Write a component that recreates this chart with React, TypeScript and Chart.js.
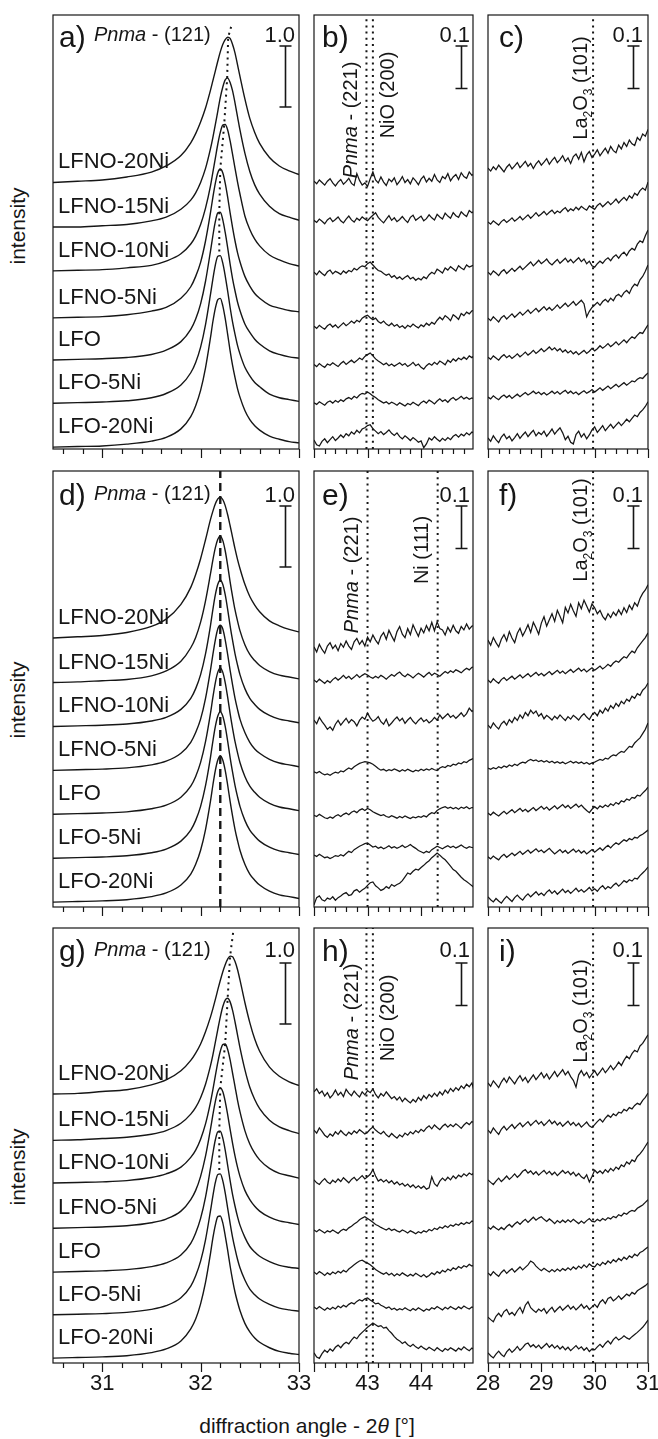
import React, { useEffect, useRef } from "react";
import { Chart, registerables } from "chart.js";

Chart.register(...registerables);

const FONT = '"Liberation Sans", Arial, Helvetica, sans-serif';
const INK = "#161616";

// ---------------- data ----------------
const sampleNames = ["LFNO-20Ni", "LFNO-15Ni", "LFNO-10Ni", "LFNO-5Ni", "LFO", "LFO-5Ni", "LFO-20Ni"];

// 2theta grid of the (121) reflection window
const peakAngles = [30.5, 30.75, 31, 31.25, 31.5, 31.65, 31.8, 31.9, 31.95, 32, 32.05, 32.1, 32.125, 32.15, 32.175, 32.2, 32.225, 32.25, 32.275, 32.3, 32.325, 32.35, 32.375, 32.4, 32.45, 32.5, 32.55, 32.6, 32.7, 32.8, 32.9, 33];
// 2theta grid of the NiO / Ni window
const niAngles = [42, 42.05, 42.1, 42.15, 42.2, 42.25, 42.3, 42.35, 42.4, 42.45, 42.5, 42.55, 42.6, 42.65, 42.7, 42.75, 42.8, 42.85, 42.9, 42.95, 43, 43.05, 43.1, 43.15, 43.2, 43.25, 43.3, 43.35, 43.4, 43.45, 43.5, 43.55, 43.6, 43.65, 43.7, 43.75, 43.8, 43.85, 43.9, 43.95, 44, 44.05, 44.1, 44.15, 44.2, 44.25, 44.3, 44.35, 44.4, 44.45, 44.5, 44.55, 44.6, 44.65, 44.7, 44.75, 44.8, 44.85, 44.9, 44.95, 45];
// 2theta grid of the La2O3 window
const laAngles = [28, 28.05, 28.1, 28.15, 28.2, 28.25, 28.3, 28.35, 28.4, 28.45, 28.5, 28.55, 28.6, 28.65, 28.7, 28.75, 28.8, 28.85, 28.9, 28.95, 29, 29.05, 29.1, 29.15, 29.2, 29.25, 29.3, 29.35, 29.4, 29.45, 29.5, 29.55, 29.6, 29.65, 29.7, 29.75, 29.8, 29.85, 29.9, 29.95, 30, 30.05, 30.1, 30.15, 30.2, 30.25, 30.3, 30.35, 30.4, 30.45, 30.5, 30.55, 30.6, 30.65, 30.7, 30.75, 30.8, 30.85, 30.9, 30.95, 31];

// (121) patterns, stacked, intensity units (scale bar = 1.0)
const panelA = [
  [4.37, 4.39, 4.41, 4.46, 4.54, 4.64, 4.81, 5.02, 5.17, 5.36, 5.59, 5.88, 6.04, 6.2, 6.36, 6.51, 6.63, 6.71, 6.75, 6.73, 6.63, 6.49, 6.3, 6.11, 5.74, 5.42, 5.19, 5.01, 4.78, 4.64, 4.56, 4.5],
  [3.64, 3.64, 3.66, 3.68, 3.74, 3.8, 3.93, 4.08, 4.2, 4.37, 4.6, 4.92, 5.11, 5.32, 5.54, 5.76, 5.93, 6.05, 6.08, 6.01, 5.87, 5.67, 5.45, 5.23, 4.85, 4.55, 4.33, 4.18, 3.98, 3.86, 3.8, 3.75],
  [2.92, 2.93, 2.94, 2.97, 3.01, 3.08, 3.2, 3.36, 3.49, 3.68, 3.95, 4.31, 4.54, 4.77, 5, 5.19, 5.31, 5.32, 5.23, 5.05, 4.83, 4.6, 4.38, 4.18, 3.82, 3.6, 3.44, 3.33, 3.18, 3.1, 3.04, 3],
  [2.15, 2.16, 2.17, 2.2, 2.26, 2.32, 2.47, 2.66, 2.83, 3.06, 3.41, 3.87, 4.13, 4.36, 4.53, 4.59, 4.53, 4.36, 4.13, 3.87, 3.63, 3.41, 3.22, 3.07, 2.83, 2.67, 2.55, 2.47, 2.36, 2.31, 2.27, 2.25],
  [1.46, 1.47, 1.48, 1.5, 1.55, 1.62, 1.76, 1.96, 2.13, 2.38, 2.75, 3.24, 3.5, 3.73, 3.87, 3.88, 3.76, 3.55, 3.3, 3.03, 2.79, 2.59, 2.41, 2.27, 2.05, 1.91, 1.8, 1.72, 1.61, 1.55, 1.51, 1.49],
  [0.75, 0.76, 0.77, 0.79, 0.84, 0.91, 1.05, 1.25, 1.42, 1.67, 2.04, 2.53, 2.79, 3.02, 3.16, 3.17, 3.05, 2.84, 2.59, 2.32, 2.08, 1.88, 1.7, 1.56, 1.34, 1.2, 1.09, 1.02, 0.9, 0.84, 0.81, 0.78],
  [0.03, 0.04, 0.05, 0.08, 0.13, 0.19, 0.33, 0.53, 0.71, 0.96, 1.33, 1.82, 2.09, 2.31, 2.45, 2.47, 2.35, 2.14, 1.88, 1.61, 1.37, 1.17, 0.99, 0.85, 0.63, 0.48, 0.38, 0.31, 0.21, 0.16, 0.12, 0.1],
];
const panelD = [
  [4.41, 4.43, 4.45, 4.5, 4.6, 4.72, 4.96, 5.24, 5.45, 5.71, 6.02, 6.35, 6.49, 6.61, 6.69, 6.72, 6.68, 6.58, 6.43, 6.25, 6.06, 5.87, 5.7, 5.55, 5.29, 5.09, 4.95, 4.84, 4.69, 4.61, 4.55, 4.51],
  [3.68, 3.69, 3.71, 3.73, 3.79, 3.87, 4.03, 4.25, 4.42, 4.67, 5.02, 5.46, 5.69, 5.89, 6.03, 6.08, 6.01, 5.84, 5.6, 5.33, 5.09, 4.87, 4.69, 4.53, 4.3, 4.14, 4.04, 3.96, 3.86, 3.8, 3.77, 3.74],
  [2.96, 2.97, 2.98, 3, 3.05, 3.11, 3.24, 3.42, 3.58, 3.81, 4.15, 4.61, 4.88, 5.12, 5.29, 5.36, 5.29, 5.12, 4.88, 4.61, 4.37, 4.15, 3.97, 3.81, 3.58, 3.42, 3.32, 3.24, 3.14, 3.08, 3.05, 3.02],
  [2.24, 2.25, 2.26, 2.28, 2.33, 2.39, 2.52, 2.7, 2.86, 3.08, 3.42, 3.88, 4.14, 4.38, 4.56, 4.62, 4.56, 4.38, 4.14, 3.88, 3.64, 3.42, 3.24, 3.08, 2.86, 2.7, 2.59, 2.52, 2.42, 2.36, 2.33, 2.3],
  [1.52, 1.53, 1.54, 1.56, 1.61, 1.67, 1.8, 1.98, 2.14, 2.37, 2.71, 3.17, 3.44, 3.68, 3.85, 3.92, 3.85, 3.68, 3.44, 3.17, 2.93, 2.71, 2.53, 2.37, 2.14, 1.98, 1.88, 1.8, 1.7, 1.64, 1.61, 1.58],
  [0.8, 0.81, 0.82, 0.84, 0.89, 0.95, 1.08, 1.26, 1.42, 1.65, 1.99, 2.45, 2.72, 2.96, 3.13, 3.2, 3.13, 2.96, 2.72, 2.45, 2.21, 1.99, 1.81, 1.65, 1.42, 1.26, 1.16, 1.08, 0.98, 0.92, 0.89, 0.86],
  [0.08, 0.09, 0.1, 0.12, 0.17, 0.23, 0.36, 0.54, 0.7, 0.93, 1.27, 1.73, 2, 2.24, 2.41, 2.48, 2.41, 2.24, 2, 1.73, 1.49, 1.27, 1.09, 0.93, 0.7, 0.54, 0.44, 0.36, 0.26, 0.2, 0.17, 0.14],
];
const panelG = [
  [4.41, 4.42, 4.45, 4.48, 4.56, 4.64, 4.79, 4.96, 5.08, 5.23, 5.43, 5.67, 5.81, 5.96, 6.12, 6.27, 6.41, 6.53, 6.62, 6.67, 6.66, 6.58, 6.45, 6.28, 5.91, 5.58, 5.31, 5.11, 4.85, 4.7, 4.61, 4.55],
  [3.65, 3.66, 3.68, 3.7, 3.75, 3.81, 3.93, 4.08, 4.19, 4.35, 4.57, 4.87, 5.05, 5.26, 5.47, 5.67, 5.84, 5.95, 5.98, 5.92, 5.78, 5.59, 5.38, 5.17, 4.81, 4.52, 4.32, 4.17, 3.98, 3.87, 3.81, 3.76],
  [2.95, 2.96, 2.97, 2.99, 3.04, 3.1, 3.21, 3.37, 3.49, 3.67, 3.92, 4.27, 4.48, 4.71, 4.93, 5.11, 5.22, 5.23, 5.14, 4.97, 4.75, 4.53, 4.31, 4.12, 3.81, 3.59, 3.44, 3.33, 3.19, 3.11, 3.07, 3.03],
  [2.21, 2.22, 2.23, 2.25, 2.3, 2.36, 2.49, 2.68, 2.83, 3.06, 3.39, 3.83, 4.07, 4.29, 4.45, 4.51, 4.45, 4.29, 4.07, 3.83, 3.6, 3.39, 3.21, 3.06, 2.83, 2.68, 2.57, 2.49, 2.39, 2.33, 2.3, 2.27],
  [1.49, 1.5, 1.51, 1.53, 1.58, 1.64, 1.77, 1.96, 2.13, 2.37, 2.72, 3.19, 3.44, 3.66, 3.79, 3.8, 3.69, 3.49, 3.24, 2.99, 2.76, 2.57, 2.4, 2.26, 2.06, 1.91, 1.82, 1.75, 1.66, 1.6, 1.57, 1.55],
  [0.79, 0.8, 0.81, 0.83, 0.88, 0.94, 1.07, 1.26, 1.43, 1.67, 2.02, 2.49, 2.74, 2.96, 3.09, 3.1, 2.99, 2.79, 2.54, 2.29, 2.06, 1.87, 1.7, 1.56, 1.36, 1.21, 1.12, 1.05, 0.96, 0.9, 0.87, 0.85],
  [0.08, 0.09, 0.1, 0.12, 0.17, 0.23, 0.36, 0.56, 0.72, 0.97, 1.32, 1.79, 2.05, 2.26, 2.4, 2.41, 2.3, 2.09, 1.85, 1.59, 1.36, 1.16, 1, 0.86, 0.65, 0.51, 0.41, 0.34, 0.25, 0.19, 0.16, 0.14],
];

// weak-reflection windows, stacked, intensity x 1000 (scale bar = 0.1)
const panelB = [
  [630, 624, 633, 627, 621, 630, 636, 626, 619, 628, 634, 623, 629, 637, 625, 620, 648, 632, 621, 626, 618, 636, 652, 633, 626, 640, 628, 620, 635, 629, 638, 622, 630, 641, 627, 634, 624, 638, 631, 622, 635, 642, 628, 637, 630, 646, 633, 627, 641, 636, 648, 631, 640, 646, 634, 650, 641, 637, 652, 644, 648],
  [538, 533, 541, 536, 530, 539, 544, 535, 540, 546, 537, 532, 541, 548, 539, 534, 543, 538, 546, 541, 537, 544, 550, 556, 545, 538, 532, 541, 549, 538, 544, 535, 540, 547, 539, 533, 545, 550, 538, 543, 548, 537, 542, 551, 544, 539, 552, 546, 541, 555, 548, 543, 556, 549, 545, 558, 552, 547, 561, 556, 560],
  [416, 410, 419, 413, 408, 417, 421, 412, 418, 415, 411, 419, 414, 420, 417, 425, 421, 427, 431, 429, 436, 440, 433, 426, 420, 418, 413, 409, 412, 404, 408, 401, 405, 399, 404, 408, 400, 404, 397, 402, 398, 405, 401, 410, 416, 412, 423, 419, 414, 426, 421, 429, 424, 419, 431, 426, 422, 433, 428, 431, 434],
  [289, 284, 291, 286, 282, 290, 294, 287, 292, 285, 291, 297, 290, 295, 301, 296, 303, 299, 308, 312, 315, 309, 304, 308, 300, 296, 301, 294, 290, 296, 289, 293, 286, 290, 284, 291, 287, 294, 289, 285, 292, 288, 296, 291, 298, 294, 303, 310, 304, 314, 309, 302, 316, 311, 305, 319, 314, 322, 318, 325, 327],
  [199, 194, 201, 196, 192, 200, 197, 203, 198, 194, 201, 206, 199, 204, 209, 203, 208, 214, 210, 218, 222, 226, 219, 212, 207, 203, 198, 202, 196, 200, 195, 199, 203, 197, 201, 194, 198, 204, 196, 200, 192, 188, 196, 201, 197, 204, 199, 207, 203, 198, 209, 204, 212, 207, 214, 210, 216, 211, 219, 215, 221],
  [109, 105, 111, 107, 103, 110, 113, 108, 114, 110, 116, 112, 118, 121, 117, 124, 120, 127, 131, 129, 134, 130, 125, 121, 116, 112, 108, 111, 106, 110, 107, 103, 109, 105, 101, 107, 104, 110, 106, 102, 109, 113, 108, 115, 111, 106, 113, 118, 112, 116, 110, 117, 121, 115, 119, 124, 118, 122, 117, 120, 118],
  [21, 10, 7, 18, 24, 15, 22, 29, 20, 26, 33, 27, 36, 31, 40, 35, 44, 38, 47, 50, 55, 57, 48, 42, 36, 41, 34, 39, 45, 37, 32, 38, 29, 24, 31, 26, 20, 27, 22, 16, 19, 3, 12, 26, 21, 29, 23, 18, 25, 20, 27, 22, 30, 34, 28, 35, 31, 38, 33, 40, 37],
];
const panelC = [
  [661, 654, 664, 657, 668, 660, 652, 663, 670, 659, 666, 674, 662, 669, 677, 665, 672, 660, 671, 678, 668, 675, 683, 670, 679, 686, 674, 681, 690, 677, 685, 672, 688, 694, 682, 698, 676, 692, 700, 686, 694, 704, 690, 699, 708, 696, 712, 702, 697, 715, 706, 721, 712, 727, 718, 714, 733, 726, 741, 736, 752],
  [534, 529, 537, 532, 527, 535, 540, 533, 538, 544, 536, 541, 547, 539, 545, 551, 543, 549, 556, 548, 553, 559, 551, 557, 562, 554, 560, 556, 563, 568, 559, 565, 561, 569, 563, 571, 566, 562, 572, 568, 564, 573, 578, 570, 576, 582, 575, 581, 588, 579, 586, 592, 585, 596, 590, 602, 597, 608, 614, 609, 628],
  [416, 410, 419, 414, 408, 417, 422, 413, 419, 425, 418, 424, 430, 422, 428, 434, 440, 431, 437, 444, 436, 441, 447, 438, 433, 440, 446, 437, 443, 449, 440, 446, 438, 444, 450, 441, 447, 436, 442, 431, 428, 436, 442, 437, 445, 450, 443, 452, 457, 449, 458, 463, 455, 466, 472, 468, 482, 490, 486, 502, 515],
  [308, 302, 311, 305, 299, 309, 314, 306, 312, 318, 310, 316, 322, 315, 321, 327, 319, 325, 331, 323, 329, 335, 327, 333, 326, 332, 339, 331, 337, 343, 335, 341, 347, 338, 344, 350, 342, 311, 324, 333, 339, 345, 338, 347, 352, 346, 355, 349, 360, 364, 358, 368, 373, 366, 380, 388, 384, 398, 406, 418, 433],
  [216, 211, 219, 214, 209, 217, 222, 215, 220, 213, 218, 224, 217, 222, 228, 221, 226, 232, 225, 230, 236, 229, 234, 240, 233, 238, 231, 236, 228, 233, 226, 231, 224, 229, 222, 227, 232, 225, 230, 237, 231, 236, 243, 237, 242, 248, 241, 246, 252, 245, 251, 257, 250, 258, 264, 260, 268, 274, 272, 282, 292],
  [122, 118, 125, 120, 116, 123, 127, 121, 126, 119, 124, 129, 123, 128, 133, 127, 131, 136, 130, 134, 128, 133, 127, 131, 136, 130, 135, 129, 134, 138, 131, 136, 130, 134, 128, 133, 137, 131, 135, 140, 134, 139, 144, 138, 143, 148, 142, 147, 152, 146, 151, 156, 150, 155, 160, 158, 164, 168, 166, 173, 179],
  [26, 18, 31, 22, 15, 28, 35, 24, 30, 19, 27, 36, 25, 33, 40, 29, 37, 44, 31, 39, 34, 42, 30, 38, 47, 35, 43, 50, 38, 22, 30, 16, 12, 34, 42, 28, 36, 24, 33, 45, 52, 39, 47, 55, 43, 51, 58, 49, 56, 63, 55, 62, 70, 64, 72, 80, 76, 86, 92, 100, 111],
];
const panelE = [
  [612, 600, 618, 606, 597, 614, 622, 608, 616, 603, 620, 611, 626, 614, 606, 624, 632, 618, 627, 614, 635, 624, 640, 628, 619, 637, 646, 630, 651, 638, 626, 648, 660, 642, 634, 655, 641, 664, 650, 637, 656, 645, 662, 650, 670, 650, 671, 655, 652, 640, 658, 647, 663, 650, 644, 660, 652, 666, 654, 661, 662],
  [534, 529, 536, 531, 526, 533, 528, 535, 540, 534, 539, 545, 538, 543, 536, 541, 547, 540, 545, 549, 546, 541, 538, 543, 539, 545, 541, 536, 542, 547, 543, 549, 553, 546, 542, 548, 544, 539, 545, 550, 546, 541, 547, 552, 545, 550, 547, 543, 549, 554, 550, 556, 552, 558, 555, 551, 557, 562, 558, 564, 565],
  [440, 431, 446, 436, 428, 418, 424, 416, 430, 439, 428, 436, 444, 433, 441, 436, 426, 439, 447, 442, 456, 445, 437, 441, 448, 436, 430, 442, 426, 433, 441, 447, 438, 444, 432, 440, 446, 437, 431, 439, 445, 436, 441, 433, 438, 446, 440, 452, 443, 449, 455, 446, 451, 444, 450, 457, 448, 455, 468, 460, 464],
  [318, 315, 319, 314, 311, 313, 310, 314, 317, 315, 320, 318, 323, 327, 324, 330, 334, 338, 340, 342, 341, 339, 336, 331, 326, 322, 324, 320, 323, 321, 325, 322, 319, 323, 320, 324, 321, 318, 322, 320, 324, 321, 325, 322, 326, 323, 321, 327, 330, 328, 333, 331, 336, 334, 339, 337, 342, 340, 345, 348, 351],
  [216, 213, 218, 214, 210, 208, 212, 209, 214, 217, 213, 218, 221, 217, 223, 226, 222, 228, 231, 227, 232, 229, 224, 221, 218, 215, 217, 213, 211, 215, 212, 209, 213, 210, 214, 211, 208, 212, 210, 213, 211, 215, 212, 218, 222, 220, 227, 231, 234, 236, 232, 235, 231, 234, 230, 235, 232, 236, 231, 234, 233],
  [122, 119, 124, 120, 116, 118, 114, 117, 121, 119, 123, 120, 126, 131, 128, 135, 139, 143, 146, 149, 151, 146, 141, 143, 138, 141, 137, 140, 144, 139, 142, 138, 141, 145, 140, 143, 147, 142, 138, 133, 130, 127, 131, 128, 135, 139, 143, 140, 137, 141, 144, 140, 143, 139, 142, 146, 141, 138, 142, 140, 139],
  [5, 22, 26, 17, 14, 21, 18, 24, 16, 22, 26, 31, 34, 27, 29, 38, 41, 35, 40, 44, 51, 57, 59, 50, 45, 39, 42, 48, 44, 53, 49, 53, 56, 62, 71, 80, 77, 84, 89, 87, 93, 98, 104, 109, 116, 121, 127, 122, 116, 111, 104, 96, 88, 84, 77, 70, 64, 60, 55, 50, 45],
];
const panelF = [
  [628, 616, 634, 622, 612, 630, 641, 626, 648, 633, 622, 644, 656, 638, 650, 664, 646, 670, 657, 642, 668, 683, 661, 676, 690, 672, 698, 684, 669, 705, 692, 712, 697, 684, 716, 702, 722, 708, 694, 713, 704, 690, 698, 684, 676, 690, 681, 694, 686, 699, 688, 704, 693, 710, 700, 716, 708, 726, 738, 746, 758],
  [534, 528, 537, 531, 526, 535, 540, 533, 538, 543, 536, 541, 546, 539, 544, 549, 542, 547, 552, 545, 550, 544, 549, 554, 547, 552, 557, 550, 555, 549, 554, 559, 552, 557, 562, 555, 560, 553, 558, 563, 557, 562, 567, 560, 565, 571, 566, 574, 579, 576, 583, 589, 586, 595, 602, 598, 610, 618, 626, 634, 645],
  [428, 421, 433, 425, 419, 431, 437, 428, 441, 434, 446, 439, 452, 444, 458, 450, 463, 455, 461, 449, 455, 443, 451, 446, 440, 449, 443, 452, 445, 439, 448, 442, 451, 446, 440, 449, 455, 447, 441, 452, 458, 450, 463, 456, 468, 461, 474, 467, 479, 472, 484, 478, 489, 484, 496, 491, 502, 498, 510, 516, 527],
  [327, 324, 328, 325, 330, 327, 332, 329, 334, 331, 336, 333, 338, 341, 339, 344, 347, 344, 346, 342, 345, 341, 344, 340, 343, 339, 342, 338, 341, 337, 340, 343, 339, 342, 338, 341, 337, 340, 336, 339, 341, 344, 347, 345, 350, 348, 354, 358, 356, 362, 366, 364, 371, 378, 376, 386, 392, 398, 408, 418, 433],
  [221, 216, 223, 218, 214, 220, 225, 219, 224, 229, 222, 227, 232, 225, 230, 224, 229, 234, 227, 232, 237, 230, 235, 228, 233, 238, 231, 236, 241, 234, 239, 232, 237, 242, 235, 240, 233, 227, 222, 230, 236, 231, 238, 234, 240, 236, 243, 239, 246, 242, 250, 247, 254, 251, 258, 256, 263, 261, 268, 274, 282],
  [118, 113, 120, 115, 111, 119, 124, 117, 122, 127, 121, 126, 131, 124, 129, 134, 127, 132, 137, 130, 134, 128, 133, 138, 131, 125, 130, 135, 128, 133, 126, 131, 136, 129, 134, 127, 132, 125, 130, 135, 129, 134, 139, 133, 140, 145, 139, 146, 151, 147, 153, 158, 155, 161, 158, 164, 162, 168, 171, 176, 181],
  [24, 17, 12, 20, 14, 9, 18, 25, 19, 13, 22, 28, 21, 16, 25, 31, 24, 30, 36, 28, 33, 27, 35, 40, 32, 38, 30, 36, 42, 34, 39, 32, 38, 44, 36, 41, 35, 40, 46, 38, 43, 37, 45, 50, 42, 48, 44, 51, 56, 49, 55, 62, 58, 64, 61, 68, 66, 74, 80, 86, 94],
];
const panelH = [
  [638, 645, 634, 640, 628, 636, 624, 631, 642, 630, 637, 627, 644, 635, 629, 640, 632, 626, 638, 631, 641, 636, 645, 632, 624, 634, 628, 638, 630, 622, 627, 619, 626, 615, 623, 617, 612, 620, 614, 625, 618, 629, 622, 632, 626, 635, 628, 638, 631, 642, 635, 646, 639, 648, 642, 652, 646, 656, 650, 659, 635],
  [548, 541, 553, 545, 536, 531, 539, 534, 544, 538, 547, 540, 535, 543, 538, 546, 541, 549, 544, 539, 543, 550, 555, 548, 543, 539, 545, 537, 532, 540, 534, 529, 537, 532, 541, 536, 544, 539, 547, 542, 550, 545, 553, 558, 551, 560, 554, 549, 557, 562, 555, 561, 556, 563, 558, 552, 560, 566, 561, 568, 565],
  [431, 424, 420, 428, 434, 426, 422, 430, 425, 433, 427, 436, 430, 424, 432, 437, 429, 435, 441, 433, 438, 444, 455, 440, 428, 432, 426, 431, 424, 429, 421, 426, 419, 423, 416, 421, 414, 419, 412, 417, 411, 416, 409, 412, 438, 422, 416, 428, 435, 429, 437, 431, 440, 434, 442, 438, 445, 440, 447, 443, 449],
  [313, 309, 314, 310, 306, 311, 308, 313, 309, 305, 311, 315, 312, 318, 322, 327, 331, 337, 341, 344, 340, 336, 331, 326, 323, 319, 316, 313, 317, 312, 315, 311, 308, 313, 310, 306, 311, 308, 304, 309, 306, 311, 308, 314, 311, 317, 314, 320, 317, 323, 319, 325, 322, 327, 324, 330, 326, 331, 328, 334, 332],
  [214, 209, 215, 211, 206, 212, 208, 214, 210, 216, 212, 218, 214, 221, 226, 231, 236, 240, 242, 238, 235, 231, 226, 220, 216, 212, 209, 213, 207, 211, 205, 210, 206, 212, 208, 204, 209, 205, 211, 207, 203, 208, 202, 206, 212, 208, 215, 211, 218, 214, 221, 217, 224, 220, 227, 223, 229, 226, 232, 228, 231],
  [132, 127, 133, 128, 124, 130, 126, 131, 127, 134, 130, 136, 132, 138, 142, 139, 145, 149, 146, 151, 153, 148, 144, 139, 141, 136, 133, 129, 132, 126, 129, 124, 128, 125, 130, 126, 123, 128, 124, 130, 126, 122, 127, 124, 130, 127, 133, 129, 125, 131, 127, 133, 129, 126, 132, 128, 134, 130, 127, 132, 129],
  [24, 14, 11, 22, 30, 25, 33, 28, 37, 42, 36, 44, 49, 45, 54, 61, 57, 66, 72, 78, 84, 89, 94, 90, 86, 88, 82, 84, 76, 70, 62, 56, 52, 46, 50, 43, 39, 44, 38, 34, 40, 35, 31, 37, 33, 29, 36, 31, 27, 34, 30, 36, 32, 28, 35, 31, 38, 33, 29, 35, 31],
];
const panelI = [
  [659, 651, 664, 656, 648, 661, 670, 660, 673, 665, 657, 668, 676, 664, 672, 660, 669, 678, 667, 675, 683, 671, 680, 668, 677, 686, 674, 682, 690, 678, 686, 674, 665, 649, 678, 688, 676, 684, 671, 680, 688, 677, 685, 694, 683, 691, 700, 690, 698, 708, 700, 712, 722, 716, 728, 736, 732, 746, 752, 762, 772],
  [548, 541, 553, 545, 538, 550, 557, 548, 555, 561, 552, 559, 565, 556, 562, 568, 559, 565, 571, 562, 568, 559, 565, 572, 563, 569, 560, 566, 557, 563, 569, 560, 566, 558, 564, 555, 561, 567, 558, 554, 561, 568, 574, 567, 576, 583, 578, 586, 582, 590, 588, 597, 593, 601, 598, 606, 611, 608, 618, 625, 635],
  [431, 425, 420, 428, 435, 427, 433, 440, 432, 438, 445, 437, 443, 451, 455, 447, 452, 444, 450, 442, 448, 453, 445, 451, 443, 449, 441, 447, 453, 446, 451, 443, 449, 440, 446, 438, 434, 443, 426, 439, 454, 447, 452, 446, 455, 449, 458, 452, 461, 456, 466, 462, 473, 468, 478, 474, 486, 492, 500, 510, 520],
  [320, 315, 322, 317, 313, 319, 314, 321, 326, 320, 327, 332, 326, 333, 338, 331, 337, 343, 336, 341, 344, 338, 333, 339, 334, 328, 335, 330, 336, 331, 337, 332, 338, 333, 328, 334, 329, 335, 340, 333, 332, 338, 334, 340, 336, 342, 339, 345, 342, 349, 346, 353, 350, 356, 359, 357, 364, 368, 372, 378, 384],
  [212, 206, 215, 209, 204, 213, 219, 211, 217, 222, 214, 220, 226, 219, 225, 231, 240, 236, 228, 222, 217, 223, 218, 214, 220, 215, 221, 216, 222, 218, 224, 219, 226, 221, 228, 223, 231, 225, 233, 228, 226, 234, 229, 237, 232, 240, 235, 243, 238, 246, 241, 249, 244, 252, 248, 256, 252, 260, 263, 268, 273],
  [108, 102, 97, 110, 117, 109, 121, 126, 114, 119, 112, 123, 131, 118, 136, 144, 130, 124, 119, 127, 122, 128, 117, 125, 131, 120, 127, 133, 124, 130, 136, 127, 133, 125, 131, 138, 129, 135, 126, 132, 138, 131, 143, 149, 140, 152, 155, 146, 151, 158, 150, 156, 162, 158, 166, 162, 170, 174, 178, 182, 188],
  [24, 17, 12, 21, 28, 20, 15, 26, 33, 25, 31, 39, 30, 36, 44, 47, 38, 43, 36, 42, 34, 40, 46, 37, 43, 35, 41, 33, 39, 31, 37, 29, 35, 41, 33, 38, 30, 36, 27, 33, 31, 38, 44, 37, 46, 52, 45, 55, 61, 54, 58, 64, 59, 56, 62, 67, 72, 78, 84, 92, 101],
];

// reflection positions / peak-maximum guides
const guideA_x = [32.31, 32.28, 32.27, 32.24, 32.2, 32.19, 32.19];
const guideA_y = [6.92, 6.75, 6.08, 5.32, 4.59, 3.88, 3.17];
const guideG_x = [32.33, 32.3, 32.275, 32.25, 32.2, 32.19, 32.19];
const guideG_y = [7.05, 6.67, 5.98, 5.23, 4.51, 3.8, 3.1];
const pnma121Line = 32.2;
const pnma221Line = 42.98;
const pnma221LineE = 43.0;
const nio200Line = 43.1;
const ni111Line = 44.31;
const la2o3Line = 29.97;

const tickLabelsA = [31, 32, 33];
const tickLabelsB = [43, 44];
const tickLabelsC = [28, 29, 30, 31];

// ---------------- layout ----------------
const ROWS = [
  { top: 15, h: 434, letterBase: 32, labelBase: 27, barTop: 31, headBase: 26 },
  { top: 471, h: 436, letterBase: 34, labelBase: 31, barTop: 35, headBase: 29 },
  { top: 928, h: 435, letterBase: 33, labelBase: 29, barTop: 35, headBase: 28 },
];
const COLS = [
  { left: 53, w: 246, xMin: 30.5, xMax: 33, letterDx: 6, barDx: 14, scaleDx: 4 },
  { left: 314, w: 159, xMin: 42, xMax: 44.97, letterDx: 8, barDx: 12, scaleDx: 3 },
  { left: 488, w: 160, xMin: 28, xMax: 31, letterDx: 11, barDx: 15, scaleDx: 5 },
];
const PAD = { l: 14, r: 14, t: 4, b: 48 };

type Run = { t: string; it?: boolean; sub?: boolean };
type Guide = { xs: number[]; ys: number[]; dash: number[]; width: number };
type Ann = { runs: Run[]; bx: number; cy: number };
type Panel = {
  id: string; row: number; col: number; letter: string; xs: number[]; traces: number[][];
  smooth: boolean; guides: Guide[]; anns: Ann[]; scaleText: string; scaleValue: number;
  tickLabels: number[] | null;
};

const DOT = [2, 4.2];
const pnmaRuns: Run[] = [{ t: "Pnma", it: true }, { t: " - (221)" }];
const nioRuns: Run[] = [{ t: "NiO (200)" }];
const niRuns: Run[] = [{ t: "Ni (111)" }];
const laRuns: Run[] = [{ t: "La" }, { t: "2", sub: true }, { t: "O" }, { t: "3", sub: true }, { t: " (101)" }];

function yMaxOf(row: number, col: number) {
  const h = ROWS[row].h;
  return col === 0 ? h / 61 : h * 2.353;
}
function vline(x: number, row: number, col: number, dash: number[], width: number): Guide {
  return { xs: [x, x], ys: [0, yMaxOf(row, col)], dash, width };
}

const panels: Panel[] = [
  { id: "a", row: 0, col: 0, letter: "a)", xs: peakAngles, traces: panelA, smooth: true,
    guides: [{ xs: guideA_x, ys: guideA_y, dash: DOT, width: 2 }], anns: [], scaleText: "1.0", scaleValue: 1, tickLabels: null },
  { id: "b", row: 0, col: 1, letter: "b)", xs: niAngles, traces: panelB, smooth: false,
    guides: [vline(pnma221Line, 0, 1, DOT, 2), vline(nio200Line, 0, 1, DOT, 2)],
    anns: [{ runs: pnmaRuns, bx: 43, cy: 105 }, { runs: nioRuns, bx: 80, cy: 80 }], scaleText: "0.1", scaleValue: 100, tickLabels: null },
  { id: "c", row: 0, col: 2, letter: "c)", xs: laAngles, traces: panelC, smooth: false,
    guides: [vline(la2o3Line, 0, 2, DOT, 2)], anns: [{ runs: laRuns, bx: 99, cy: 73 }], scaleText: "0.1", scaleValue: 100, tickLabels: null },
  { id: "d", row: 1, col: 0, letter: "d)", xs: peakAngles, traces: panelD, smooth: true,
    guides: [vline(pnma121Line, 1, 0, [8, 5], 2.4)], anns: [], scaleText: "1.0", scaleValue: 1, tickLabels: null },
  { id: "e", row: 1, col: 1, letter: "e)", xs: niAngles, traces: panelE, smooth: false,
    guides: [vline(pnma221LineE, 1, 1, DOT, 2), vline(ni111Line, 1, 1, DOT, 2)],
    anns: [{ runs: pnmaRuns, bx: 44, cy: 104 }, { runs: niRuns, bx: 114, cy: 79 }], scaleText: "0.1", scaleValue: 100, tickLabels: null },
  { id: "f", row: 1, col: 2, letter: "f)", xs: laAngles, traces: panelF, smooth: false,
    guides: [vline(la2o3Line, 1, 2, DOT, 2)], anns: [{ runs: laRuns, bx: 99, cy: 59 }], scaleText: "0.1", scaleValue: 100, tickLabels: null },
  { id: "g", row: 2, col: 0, letter: "g)", xs: peakAngles, traces: panelG, smooth: true,
    guides: [{ xs: guideG_x, ys: guideG_y, dash: DOT, width: 2 }], anns: [], scaleText: "1.0", scaleValue: 1, tickLabels: tickLabelsA },
  { id: "h", row: 2, col: 1, letter: "h)", xs: niAngles, traces: panelH, smooth: false,
    guides: [vline(pnma221Line, 2, 1, DOT, 2), vline(nio200Line, 2, 1, DOT, 2)],
    anns: [{ runs: pnmaRuns, bx: 44, cy: 94 }, { runs: nioRuns, bx: 80, cy: 90 }], scaleText: "0.1", scaleValue: 100, tickLabels: tickLabelsB },
  { id: "i", row: 2, col: 2, letter: "i)", xs: laAngles, traces: panelI, smooth: false,
    guides: [vline(la2o3Line, 2, 2, DOT, 2)], anns: [{ runs: laRuns, bx: 99, cy: 83 }], scaleText: "0.1", scaleValue: 100, tickLabels: tickLabelsC },
];

function drawRuns(ctx: CanvasRenderingContext2D, runs: Run[], x: number, y: number, size: number, align: "left" | "center", rotated: boolean) {
  ctx.save();
  ctx.translate(x, y);
  if (rotated) ctx.rotate(-Math.PI / 2);
  ctx.textAlign = "left";
  ctx.textBaseline = "alphabetic";
  const f = (r: Run) => `${r.it ? "italic " : ""}${r.sub ? Math.round(size * 0.62) : size}px ${FONT}`;
  let total = 0;
  runs.forEach((r) => { ctx.font = f(r); total += ctx.measureText(r.t).width; });
  let cx = align === "center" ? -total / 2 : 0;
  runs.forEach((r) => {
    ctx.font = f(r);
    ctx.fillText(r.t, cx, r.sub ? size * 0.25 : 0);
    cx += ctx.measureText(r.t).width;
  });
  ctx.restore();
}

function decor(p: Panel) {
  const row = ROWS[p.row];
  const col = COLS[p.col];
  return {
    id: "decor_" + p.id,
    afterDatasetsDraw(chart: any) {
      const ctx: CanvasRenderingContext2D = chart.ctx;
      const ca = chart.chartArea;
      const sx = chart.scales.x;
      const sy = chart.scales.y;
      ctx.save();
      ctx.strokeStyle = INK;
      ctx.fillStyle = INK;
      ctx.lineWidth = 1.2;
      ctx.strokeRect(ca.left, ca.top, ca.right - ca.left, ca.bottom - ca.top);
      ctx.beginPath();
      const k0 = Math.ceil(col.xMin * 5 - 1e-6);
      const k1 = Math.floor(col.xMax * 5 + 1e-6);
      for (let k = k0; k <= k1; k++) {
        const px = Math.round(sx.getPixelForValue(k / 5)) + 0.5;
        const len = k % 5 === 0 ? 9 : 5;
        ctx.moveTo(px, ca.bottom);
        ctx.lineTo(px, ca.bottom + len);
      }
      ctx.stroke();
      if (p.tickLabels) {
        ctx.font = `22px ${FONT}`;
        ctx.textAlign = "center";
        ctx.textBaseline = "top";
        p.tickLabels.forEach((v) => ctx.fillText(String(v), sx.getPixelForValue(v), ca.bottom + 10));
      }
      const bx = Math.round(ca.right - col.barDx) + 0.5;
      const by0 = ca.top + row.barTop;
      const bh = sy.getPixelForValue(0) - sy.getPixelForValue(p.scaleValue);
      ctx.lineWidth = 1.6;
      ctx.beginPath();
      ctx.moveTo(bx, by0); ctx.lineTo(bx, by0 + bh);
      ctx.moveTo(bx - 6, by0); ctx.lineTo(bx + 6, by0);
      ctx.moveTo(bx - 6, by0 + bh); ctx.lineTo(bx + 6, by0 + bh);
      ctx.stroke();
      ctx.font = `22px ${FONT}`;
      ctx.textAlign = "right";
      ctx.textBaseline = "alphabetic";
      ctx.fillText(p.scaleText, ca.right - col.scaleDx, ca.top + row.labelBase);
      ctx.font = `30px ${FONT}`;
      ctx.textAlign = "left";
      ctx.fillText(p.letter, ca.left + col.letterDx, ca.top + row.letterBase);
      if (p.smooth) {
        drawRuns(ctx, [{ t: "Pnma", it: true }, { t: " - (121)" }], ca.left + 41, ca.top + row.headBase, 20, "left", false);
        ctx.font = `22px ${FONT}`;
        ctx.textAlign = "left";
        p.traces.forEach((tr, i) => {
          ctx.fillText(sampleNames[i], ca.left + 5, sy.getPixelForValue(tr[0]) - 14);
        });
      }
      p.anns.forEach((a) => drawRuns(ctx, a.runs, ca.left + a.bx, ca.top + a.cy, 20, "center", true));
      ctx.restore();
    },
  };
}

function PanelChart({ p }: { p: Panel }) {
  const ref = useRef<HTMLCanvasElement>(null);
  const row = ROWS[p.row];
  const col = COLS[p.col];
  const W = col.w + PAD.l + PAD.r;
  const H = row.h + PAD.t + PAD.b;
  useEffect(() => {
    if (!ref.current) return;
    const datasets: any[] = [];
    p.guides.forEach((g) => {
      datasets.push({
        data: g.xs.map((x, i) => ({ x, y: g.ys[i] })),
        borderColor: INK, borderWidth: g.width, borderDash: g.dash, pointRadius: 0, fill: false, tension: 0,
      });
    });
    p.traces.forEach((tr) => {
      datasets.push({
        data: p.xs.map((x, i) => ({ x, y: tr[i] })),
        borderColor: INK, borderWidth: p.smooth ? 1.4 : 1.25, pointRadius: 0, fill: false, tension: 0,
        cubicInterpolationMode: p.smooth ? "monotone" : "default",
      });
    });
    const chart = new Chart(ref.current, {
      type: "line",
      data: { datasets },
      options: {
        animation: false,
        responsive: false,
        events: [],
        layout: { padding: { left: PAD.l, right: PAD.r, top: PAD.t, bottom: PAD.b } },
        plugins: { legend: { display: false }, tooltip: { enabled: false } },
        scales: {
          x: { type: "linear", min: col.xMin, max: col.xMax, display: false },
          y: { type: "linear", min: 0, max: yMaxOf(p.row, p.col), display: false },
        },
      },
      plugins: [decor(p)],
    } as any);
    return () => chart.destroy();
  }, []);
  return (
    <canvas
      ref={ref}
      width={W}
      height={H}
      style={{ position: "absolute", left: col.left - PAD.l, top: row.top - PAD.t, width: W, height: H }}
    />
  );
}

const intensityCenters = [226, 700, 1167];

export default function App() {
  return (
    <div style={{ position: "absolute", left: 0, top: 0, width: 658, height: 1439, background: "#fff", fontFamily: FONT, color: INK, overflow: "hidden" }}>
      {panels.map((p) => (
        <PanelChart key={p.id} p={p} />
      ))}
      {intensityCenters.map((cy, i) => (
        <div
          key={i}
          style={{ position: "absolute", left: 17, top: cy, transform: "translate(-50%, -50%) rotate(-90deg)", fontSize: 21, whiteSpace: "nowrap", lineHeight: 1 }}
        >
          intensity
        </div>
      ))}
      <div style={{ position: "absolute", left: 307, top: 1425, transform: "translate(-50%, -50%)", fontSize: 21, whiteSpace: "nowrap", lineHeight: 1 }}>
        diffraction angle - 2<i>θ</i> [°]
      </div>
    </div>
  );
}
